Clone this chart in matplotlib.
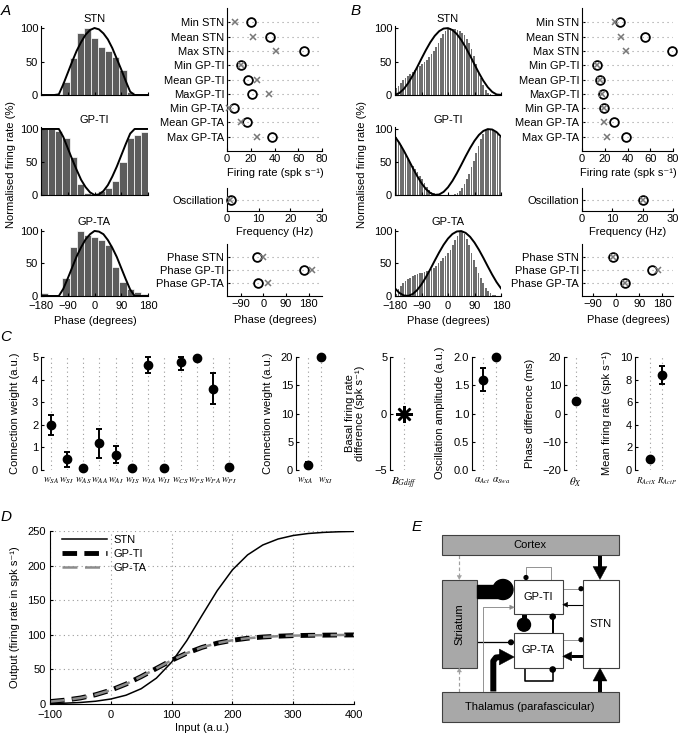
import numpy as np
import matplotlib
matplotlib.use('Agg')
import matplotlib.pyplot as plt
from matplotlib.patches import Rectangle, Circle, Polygon

plt.rcParams['font.family'] = ['Liberation Sans', 'DejaVu Sans']
plt.rcParams['font.size'] = 8
plt.rcParams['mathtext.fontset'] = 'stix'
plt.rcParams['axes.linewidth'] = 0.8

# ---------------- data ----------------
# Panel A histograms (15 bins of 24 deg)
A_edges = np.linspace(-180, 180, 16)
A_STN_hist = [0, 0, 2, 20, 55, 92, 100, 85, 72, 66, 56, 37, 5, 0, 0]
A_TI_hist = [100, 100, 97, 87, 57, 17, 3, 1, 6, 11, 21, 50, 87, 91, 96]
A_TA_hist = [5, 2, 0, 27, 75, 100, 94, 90, 86, 78, 45, 22, 11, 6, 3]
# Panel B histograms (45 bins of 8 deg)
B_edges = np.linspace(-180, 180, 46)
B_STN_hist = [10, 14, 18, 22, 25, 28, 31, 34, 37, 40, 43, 46, 49, 52, 56, 61, 66, 72, 78, 85,
              91, 96, 99, 100, 99, 98, 97, 96, 93, 89, 84, 77, 68, 58, 47, 36, 25, 15, 8, 3,
              1, 0, 0, 0, 0]
B_TI_hist = [88, 80, 75, 68, 62, 55, 48, 44, 40, 35, 29, 24, 18, 12, 8, 5, 3, 2, 1, 0,
             0, 0, 0, 0, 0, 1, 3, 6, 11, 17, 24, 32, 42, 52, 63, 74, 85, 93, 98, 100,
             100, 98, 96, 92, 88]
B_TA_hist = [3, 10, 16, 20, 23, 26, 28, 30, 32, 34, 35, 36, 37, 38, 39, 41, 43, 46, 50, 54,
             58, 62, 66, 71, 78, 86, 93, 98, 100, 96, 88, 78, 66, 55, 45, 36, 28, 20, 13, 8,
             5, 2, 1, 0, 0]
# model curves (read every 15 deg)
curve_phase = [-180, -165, -150, -135, -120, -105, -90, -75, -60, -45, -30, -15, 0,
               15, 30, 45, 60, 75, 90, 105, 120, 135, 150, 165, 180]
A_STN_curve = [0, 0, 0, 0, 1, 16, 33, 50, 66, 79, 90, 97, 100, 98, 92, 83, 70, 54, 38, 21, 5, 0, 0, 0, 0]
A_TI_curve = [100, 100, 100, 100, 100, 88, 71, 54, 38, 23, 12, 4, 0, 1, 6, 15, 28, 43, 60, 77, 93, 100, 100, 100, 100]
A_TA_curve = [0, 0, 0, 0, 0, 11, 27, 44, 61, 75, 87, 95, 100, 99, 95, 86, 74, 60, 43, 26, 10, 0, 0, 0, 0]
B_STN_curve = [0.2, 3.0, 9.0, 17.9, 28.9, 41.3, 54.4, 67.1, 78.7, 88.3, 95.3, 99.2, 99.8,
               97.0, 91.0, 82.1, 71.1, 58.7, 45.6, 32.9, 21.3, 11.7, 4.7, 0.8, 0.2]
B_TI_curve = [88.3, 78.7, 67.1, 54.4, 41.3, 28.9, 17.9, 9.0, 3.0, 0.2, 0.8, 4.7, 11.7,
              21.3, 32.9, 45.6, 58.7, 71.1, 82.1, 91.0, 97.0, 99.8, 99.2, 95.3, 88.3]
B_TA_curve = [11.7, 4.7, 0.8, 0.2, 3.0, 9.0, 17.9, 28.9, 41.3, 54.4, 67.1, 78.7, 88.3,
              95.3, 99.2, 99.8, 97.0, 91.0, 82.1, 71.1, 58.7, 45.6, 32.9, 21.3, 11.7]
phase_ticks = [-180, -90, 0, 90, 180]

# dot plots
fr_labels = ['Min STN', 'Mean STN', 'Max STN', 'Min GP-TI', 'Mean GP-TI', 'MaxGP-TI',
             'Min GP-TA', 'Mean GP-TA', 'Max GP-TA']
A_fr_model = [20, 36, 64.5, 12, 17.5, 21, 6, 16.5, 37.5]
A_fr_exp = [6.5, 22, 41.5, 12, 25, 35.5, 2, 12, 25]
B_fr_model = [33.5, 55, 79.5, 13, 15.5, 18.5, 19, 28.5, 39]
B_fr_exp = [29, 34.5, 39, 13, 15.5, 18, 19, 19, 22]
osc_labels = ['Oscillation']
A_osc_model, A_osc_exp = [1.2], [1.0]
B_osc_model, B_osc_exp = [20], [20]
ph_labels = ['Phase STN', 'Phase GP-TI', 'Phase GP-TA']
A_ph_model = [-26, 163, -20]
A_ph_exp = [-2, 195, 17]
B_ph_model = [-12, 139, 34]
B_ph_exp = [-12, 162, 34]

# Panel C
w_labels = [r'$w_{SA}$', r'$w_{SI}$', r'$w_{AS}$', r'$w_{AA}$', r'$w_{AI}$', r'$w_{IS}$',
            r'$w_{IA}$', r'$w_{II}$', r'$w_{CS}$', r'$w_{PS}$', r'$w_{PA}$', r'$w_{PI}$']
w_mean = [2.0, 0.47, 0.1, 1.2, 0.68, 0.08, 4.65, 0.07, 4.78, 4.97, 3.6, 0.15]
w_low = [1.55, 0.15, 0.1, 0.55, 0.3, 0.08, 4.3, 0.07, 4.42, 4.97, 2.92, 0.15]
w_high = [2.42, 0.78, 0.1, 1.83, 1.05, 0.08, 5.0, 0.07, 4.98, 4.97, 4.28, 0.15]
wx_labels = [r'$w_{XA}$', r'$w_{XI}$']
wx_mean = [0.9, 20]
wx_low = [0.4, 20]
wx_high = [1.4, 20]
bg_labels = [r'$B_{Gdiff}$']
bg_value = [0]
alpha_labels = [r'$\alpha_{Act}$', r'$\alpha_{Swa}$']
alpha_mean = [1.6, 2.0]
alpha_low = [1.4, 2.0]
alpha_high = [1.8, 2.0]
theta_labels = [r'$\theta_{X}$']
theta_mean = [4.5]
R_labels = [r'$R_{ActX}$', r'$R_{ActP}$']
R_mean = [1.0, 8.4]
R_low = [1.0, 7.6]
R_high = [1.0, 9.2]

# Panel D
D_input = [-100, -75, -50, -25, 0, 25, 50, 75, 100, 125, 150, 175, 200, 225, 250,
           275, 300, 325, 350, 375, 400]
D_STN = [0.7, 1.2, 2.2, 4.0, 7.2, 12.7, 22.1, 37.4, 60.4, 91.6, 128.0, 163.8, 193.8,
         215.5, 229.8, 238.4, 243.5, 246.4, 248.0, 248.9, 249.4]
D_TI = [3.5, 5.6, 8.7, 13.4, 20.0, 28.8, 39.6, 51.4, 63.1, 73.5, 81.8, 87.9, 92.1,
        95.0, 96.8, 98.0, 98.8, 99.2, 99.5, 99.7, 99.8]
D_TA = [3.5, 5.6, 8.7, 13.4, 20.0, 28.8, 39.6, 51.4, 63.1, 73.5, 81.8, 87.9, 92.1,
        95.0, 96.8, 98.0, 98.8, 99.2, 99.5, 99.7, 99.8]

# ---------------- figure ----------------
W, H = 683, 734
fig = plt.figure(figsize=(W / 100, H / 100), dpi=100)


def add_ax(x0, y0, x1, y1):
    return fig.add_axes([x0 / W, 1 - y1 / H, (x1 - x0) / W, (y1 - y0) / H])


def style(ax):
    for s in ['top', 'right']:
        ax.spines[s].set_visible(False)
    ax.tick_params(direction='in', length=2.5, width=0.8, labelsize=8, pad=2)


def ftext(x, y, s, **kw):
    fig.text(x / W, 1 - y / H, s, **kw)


def hist_panel(box, edges, vals, curve, title, labels, color, edge, rel):
    ax = add_ax(*box)
    e = np.array(edges)
    centers = (e[:-1] + e[1:]) / 2
    wd = (e[1] - e[0]) * rel
    ax.bar(centers, vals, width=wd, color=color, edgecolor=edge,
           linewidth=0.5 if edge != 'none' else 0)
    ax.plot(curve_phase, curve, color='k', lw=1.4)
    ax.set_xlim(-180, 180)
    ax.set_ylim(0, 103)
    ax.set_xticks(phase_ticks)
    ax.set_yticks([0, 50, 100])
    if not labels:
        ax.set_xticklabels([])
    ax.set_title(title, fontsize=8, pad=3)
    style(ax)
    ax.tick_params(axis='x', pad=3.5)
    return ax


def dot_panel(box, labels, model, exper, xlim, xticks):
    ax = add_ax(*box)
    n = len(labels)
    pos = np.arange(1, n + 1)
    for p in pos:
        ax.plot(xlim, [p, p], ls=(0, (1, 3.5)), color='#9a9a9a', lw=0.8)
    ax.plot(model, pos, 'o', mfc='none', mec='k', ms=6.3, mew=1.3, clip_on=False, zorder=3)
    ax.plot(exper, pos, 'x', color='#777777', ms=4, mew=1.1, clip_on=False, zorder=4)
    ax.set_ylim(n + 1, 0)
    ax.set_xlim(*xlim)
    ax.set_yticks(pos)
    ax.set_yticklabels(labels)
    ax.set_xticks(xticks)
    style(ax)
    return ax


def cat_panel(box, labels, mean, low, high, xlim, ylim, yticks, star=False, lab_fs=8,
              lab_shift=None):
    ax = add_ax(*box)
    pos = np.arange(1, len(labels) + 1)
    for p in pos:
        ax.plot([p, p], ylim, ls=(0, (1, 3)), color='#9a9a9a', lw=0.8)
    if star:
        ax.plot(pos, mean, marker=(8, 2, 0), ms=12, mew=1.8, color='k', ls='none',
                clip_on=False, zorder=3)
    else:
        m = np.array(mean)
        yerr = [m - np.array(low), np.array(high) - m]
        ax.errorbar(pos, mean, yerr=yerr, fmt='o', color='k', ms=6, capsize=2,
                    elinewidth=1.4, capthick=1.4, clip_on=False, zorder=3)
    ax.set_xlim(*xlim)
    ax.set_ylim(*ylim)
    ax.set_yticks(yticks)
    style(ax)
    lab_pos = pos + (np.array(lab_shift) if lab_shift is not None else 0)
    ax.set_xticks(lab_pos)
    ax.set_xticklabels(labels, fontsize=lab_fs)
    ax.tick_params(axis='x', length=0, pad=4)
    ax.spines['bottom'].set_visible(False)
    return ax


# ---- Panel A ----
hist_panel((41, 26, 148, 95), A_edges, A_STN_hist, A_STN_curve, 'STN', False, '#5c5c5c', 'white', 1.0)
hist_panel((41, 127, 148, 195), A_edges, A_TI_hist, A_TI_curve, 'GP-TI', False, '#5c5c5c', 'white', 1.0)
hist_panel((41, 229, 148, 296), A_edges, A_TA_hist, A_TA_curve, 'GP-TA', True, '#5c5c5c', 'white', 1.0)
dot_panel((227, 8, 322, 151), fr_labels, A_fr_model, A_fr_exp, (0, 80), [0, 20, 40, 60, 80])
dot_panel((227, 188, 322, 211), osc_labels, A_osc_model, A_osc_exp, (0, 30), [0, 10, 20, 30])
dot_panel((227, 244, 322, 296), ph_labels, A_ph_model, A_ph_exp, (-145, 233), [-90, 0, 90, 180])

# ---- Panel B ----
hist_panel((395, 26, 501, 95), B_edges, B_STN_hist, B_STN_curve, 'STN', False, '#6e6e6e', 'none', 0.72)
hist_panel((395, 127, 501, 195), B_edges, B_TI_hist, B_TI_curve, 'GP-TI', False, '#6e6e6e', 'none', 0.72)
hist_panel((395, 229, 501, 296), B_edges, B_TA_hist, B_TA_curve, 'GP-TA', True, '#6e6e6e', 'none', 0.72)
dot_panel((582, 8, 673, 151), fr_labels, B_fr_model, B_fr_exp, (0, 80), [0, 20, 40, 60, 80])
dot_panel((582, 188, 673, 211), osc_labels, B_osc_model, B_osc_exp, (0, 30), [0, 10, 20, 30])
dot_panel((582, 244, 673, 296), ph_labels, B_ph_model, B_ph_exp, (-131, 221), [-90, 0, 90, 180])

for xc in (11, 362):
    ftext(xc, 165, 'Normalised firing rate (%)', rotation=90, ha='center', va='center')
for xc in (95, 448):
    ftext(xc, 321, 'Phase (degrees)', ha='center', va='center')
for xc in (275, 628):
    ftext(xc, 173, 'Firing rate (spk s⁻¹)', ha='center', va='center')
    ftext(xc, 232, 'Frequency (Hz)', ha='center', va='center')
    ftext(xc, 320, 'Phase (degrees)', ha='center', va='center')

# ---- Panel C ----
cat_panel((41, 357, 239, 470), w_labels, w_mean, w_low, w_high, (0.4, 12.6), (0, 5),
          [0, 1, 2, 3, 4, 5], lab_fs=7.3)
cat_panel((296, 357, 327, 470), wx_labels, wx_mean, wx_low, wx_high, (0.17, 2.4), (0, 20),
          [0, 5, 10, 15, 20], lab_fs=7, lab_shift=[-0.15, 0.28])
cat_panel((390, 357, 418, 470), bg_labels, bg_value, bg_value, bg_value, (0.5, 1.5), (-5, 5),
          [-5, 0, 5], star=True, lab_fs=8)
cat_panel((472, 357, 503, 470), alpha_labels, alpha_mean, alpha_low, alpha_high, (0.06, 2.6), (0, 2),
          [0, 0.5, 1, 1.5, 2], lab_fs=7, lab_shift=[-0.12, 0.42])
cat_panel((564, 357, 587, 470), theta_labels, theta_mean, theta_mean, theta_mean, (0.5, 1.5), (-20, 20),
          [-20, -10, 0, 10, 20], lab_fs=8)
cat_panel((635, 357, 669, 470), R_labels, R_mean, R_low, R_high, (-0.22, 2.55), (0, 10),
          [0, 2, 4, 6, 8, 10], lab_fs=6.5, lab_shift=[-0.33, 0.38])

ftext(15, 413, 'Connection weight (a.u.)', rotation=90, ha='center', va='center')
ftext(268, 413, 'Connection weight (a.u.)', rotation=90, ha='center', va='center')
ftext(355, 413, 'Basal firing rate\ndifference (spk s⁻¹)', rotation=90, ha='center', va='center', linespacing=1.0)
ftext(440, 413, 'Oscillation amplitude (a.u.)', rotation=90, ha='center', va='center')
ftext(530, 413, 'Phase difference (ms)', rotation=90, ha='center', va='center')
ftext(607, 413, 'Mean firing rate (spk s⁻¹)', rotation=90, ha='center', va='center')

# ---- Panel D ----
axD = add_ax(50, 531, 354, 704)
axD.grid(True, ls=(0, (1, 3)), color='#9a9a9a', lw=0.8)
axD.plot(D_input, D_STN, color='k', lw=1.1, label='STN')
axD.plot(D_input, D_TI, color='k', lw=3.5, dashes=(3, 1.5), label='GP-TI')
axD.plot(D_input, D_TA, color='#8c8c8c', lw=1.8, dashes=(6, 3), label='GP-TA')
axD.set_xlim(-100, 400)
axD.set_ylim(0, 250)
axD.set_xticks([-100, 0, 100, 200, 300, 400])
axD.set_yticks([0, 50, 100, 150, 200, 250])
style(axD)
axD.tick_params(axis='x', pad=4)
axD.tick_params(axis='y', pad=3)
axD.set_axisbelow(True)
axD.legend(loc='upper left', bbox_to_anchor=(0.04, 0.975), frameon=False, fontsize=8,
           handlelength=4.0, labelspacing=0.35, borderaxespad=0, borderpad=0, handletextpad=0.6)
ftext(15, 617, 'Output (firing rate in spk s⁻¹)', rotation=90, ha='center', va='center')
ftext(202, 728, 'Input (a.u.)', ha='center', va='center')

# ---- Panel E (diagram) ----
axE = fig.add_axes([430 / W, 1 - 728 / H, 200 / W, 200 / H])
axE.set_xlim(430, 630)
axE.set_ylim(728, 528)
axE.axis('off')
PX = 0.72  # points per pixel


def box(x0, y0, x1, y1, fc):
    axE.add_patch(Rectangle((x0, y0), x1 - x0, y1 - y0, fc=fc, ec='#404040', lw=0.8, zorder=2))


def line(pts, w, c='k', ls='-'):
    xs, ys = zip(*pts)
    axE.plot(xs, ys, color=c, lw=w * PX, ls=ls, solid_capstyle='butt', zorder=1)


def head(tip, d, L, hw, c='k'):
    tx, ty = tip
    dx, dy = d
    nx, ny = -dy, dx
    bx, by = tx - L * dx, ty - L * dy
    axE.add_patch(Polygon([(tx, ty), (bx + hw * nx, by + hw * ny), (bx - hw * nx, by - hw * ny)],
                          closed=True, fc=c, ec=c, lw=0.3, zorder=3))


def dot(x, y, r, c='k'):
    axE.add_patch(Circle((x, y), r, fc=c, ec=c, zorder=3))


grey_box = '#a8a8a8'
box(441.5, 535, 618.5, 555, grey_box)
box(441.5, 691.5, 618.5, 722, grey_box)
box(441.5, 579.5, 476.7, 668, grey_box)
box(514.3, 579.5, 562.7, 614, 'white')
box(514.3, 632.5, 562.7, 667.5, 'white')
box(582.7, 579.5, 618.5, 668, 'white')

# cortex/thalamus -> STN
line([(600, 555), (600, 567)], 4)
head((600, 579.5), (0, 1), 13, 7)
line([(600, 691.5), (600, 680)], 4)
head((600, 668), (0, -1), 13, 7)
# cortex/thalamus -> striatum (dashed grey)
line([(459.3, 555), (459.3, 576)], 1.2, '#a0a0a0', (0, (3, 2)))
head((459.3, 579.5), (0, 1), 4, 2.2, '#a0a0a0')
line([(459.3, 691.5), (459.3, 671)], 1.2, '#a0a0a0', (0, (3, 2)))
head((459.3, 668), (0, -1), 4, 2.2, '#a0a0a0')
# striatum -> GP-TI (thick inhibitory)
axE.add_patch(Rectangle((476.7, 584.5), 27, 13, fc='k', ec='k', zorder=3))
dot(503, 589.5, 10)
# striatum -> GP-TA
line([(476.7, 642.3), (511, 642.3)], 1.3)
dot(511, 642.3, 2.3)
# thalamus -> GP-TI (thin grey)
line([(483.3, 691.5), (483.3, 607.3), (510.5, 607.3)], 0.9, '#8a8a8a')
head((514.3, 607.3), (1, 0), 4.5, 2.2, '#8a8a8a')
# thalamus -> GP-TA (thick)
line([(493.3, 691.5), (493.3, 661), (496, 657.5), (501, 657)], 6)
head((514.3, 657), (1, 0), 15, 8)
# GP-TI self loop (grey)
line([(526, 579.5), (526, 567.3), (551, 567.3), (551, 579.5)], 0.9, '#8a8a8a')
dot(526, 577.5, 1.9)
# GP-TA self loop (black)
line([(525, 667.5), (525, 680.7), (552.7, 680.7), (552.7, 670)], 1.6)
dot(552.7, 669.5, 2.6)
# GP-TI <-> GP-TA
line([(524, 614), (524, 622)], 5)
dot(524, 624.7, 6.5)
line([(552.7, 617), (552.7, 632.5)], 2)
dot(552.7, 616.7, 2.6)
# GP <-> STN
line([(562.7, 588.7), (581, 588.7)], 0.9, '#8a8a8a')
dot(581, 588.7, 1.9)
line([(582.7, 604.7), (567, 604.7)], 1.1)
head((562.7, 604.7), (-1, 0), 5, 2.5)
line([(562.7, 639.7), (581, 639.7)], 0.9, '#8a8a8a')
dot(581, 639.7, 1.9)
line([(582.7, 656.3), (571, 656.3)], 3)
head((562.7, 656.3), (-1, 0), 9, 4.5)

axE.text(530, 545, 'Cortex', ha='center', va='center', fontsize=8, zorder=4)
axE.text(530, 707, 'Thalamus (parafascicular)', ha='center', va='center', fontsize=8, zorder=4)
axE.text(459, 624, 'Striatum', ha='center', va='center', fontsize=8, rotation=90, zorder=4)
axE.text(538.5, 597, 'GP-TI', ha='center', va='center', fontsize=8, zorder=4)
axE.text(538.5, 650, 'GP-TA', ha='center', va='center', fontsize=8, zorder=4)
axE.text(600.5, 624, 'STN', ha='center', va='center', fontsize=8, zorder=4)

# panel letters
for letter, (x, y) in {'A': (6, 11), 'B': (356, 11), 'C': (6, 337), 'D': (6, 517), 'E': (417, 527)}.items():
    ftext(x, y, letter, fontsize=11, style='italic', ha='center', va='center')

fig.savefig('out.png', dpi=100)
